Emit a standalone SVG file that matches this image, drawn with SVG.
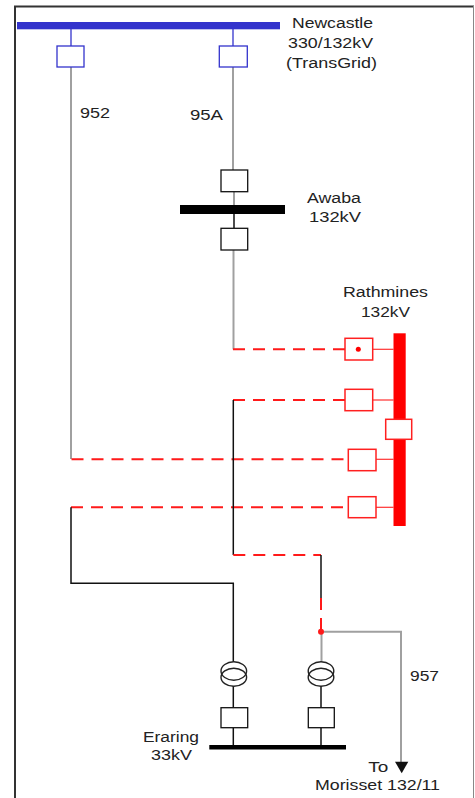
<svg xmlns="http://www.w3.org/2000/svg" width="475" height="798" viewBox="0 0 475 798">
<style>
text{font-family:"Liberation Sans",Arial,sans-serif;font-size:14px;fill:#222}
.gray{stroke:#a0a0a0;stroke-width:2;fill:none}
.blk{stroke:#111;stroke-width:1.5;fill:none}
.red{stroke:#ff1a1a;stroke-width:2;fill:none;stroke-dasharray:12 8}
.redthin{stroke:#ff3030;stroke-width:1.2;fill:none}
.blue{stroke:#3333cc;stroke-width:1.3;fill:none}
.bbox{fill:#fff;stroke:#3333cc;stroke-width:1.3}
.kbox{fill:#fff;stroke:#111;stroke-width:1.3}
.rbox{fill:#fff;stroke:#ff2020;stroke-width:1.5}
.tx{fill:none;stroke:#222;stroke-width:1.4}
</style>
<rect x="0" y="0" width="475" height="798" fill="#fff"/>
<g id="frame">
<line x1="15" y1="6" x2="15" y2="798" stroke="#333" stroke-width="2"/>
<line x1="14" y1="6.5" x2="474" y2="6.5" stroke="#333" stroke-width="2"/>
<line x1="473.5" y1="6" x2="473.5" y2="798" stroke="#888" stroke-width="1"/>
</g>
<g id="connectors">
<line class="blue" x1="71" y1="29" x2="71" y2="46"/>
<line class="blue" x1="233" y1="29" x2="233" y2="46"/>
<line class="gray" x1="71" y1="67" x2="71" y2="459"/>
<line class="gray" x1="233" y1="67" x2="233" y2="170"/>
<line class="gray" x1="234" y1="191.7" x2="234" y2="205"/>
<line class="blk" x1="234" y1="214" x2="234" y2="228"/>
<polyline class="gray" points="233.5,250 233.5,349.3"/>
<line class="red" x1="233" y1="349.3" x2="345" y2="349.3"/>
<line class="redthin" x1="372.7" y1="349.3" x2="393.5" y2="349.3"/>
<line class="red" x1="233" y1="400" x2="345" y2="400"/>
<line class="redthin" x1="372.7" y1="400" x2="393.5" y2="400"/>
<line class="red" x1="71.5" y1="459.3" x2="348.3" y2="459.3"/>
<line class="redthin" x1="376" y1="459.3" x2="393.5" y2="459.3"/>
<line class="red" x1="71" y1="507.3" x2="348.3" y2="507.3"/>
<line class="redthin" x1="376" y1="507.3" x2="393.5" y2="507.3"/>
<polyline class="blk" points="233.3,400 233.3,555"/>
<polyline class="blk" points="71,507.3 71,583.3 233.3,583.3 233.3,661.7"/>
<line class="red" x1="233.3" y1="555" x2="321" y2="555"/>
<line class="blk" x1="321" y1="555" x2="321" y2="598"/>
<line class="red" x1="321" y1="598" x2="321" y2="631.7" stroke-dasharray="22 9"/>
<line class="gray" x1="321.5" y1="631.7" x2="321.5" y2="661.7"/>
<polyline class="gray" points="321,631.7 401,631.7 401,762"/>
<polygon points="395,761.7 408.3,761.7 401.7,773.3" fill="#111"/>
<circle cx="321" cy="631.7" r="3" fill="#ff1a1a"/>
<line class="blk" x1="233.3" y1="686" x2="233.3" y2="708"/>
<line class="blk" x1="233.3" y1="728" x2="233.3" y2="745"/>
<line class="blk" x1="321" y1="686" x2="321" y2="708"/>
<line class="blk" x1="321" y1="728" x2="321" y2="745"/>
</g>
<g id="newcastle">
<rect x="17" y="22" width="263" height="7.3" fill="#3333cc"/>
<rect class="bbox" x="57" y="46" width="27" height="21"/>
<rect class="bbox" x="219.3" y="46" width="28" height="21"/>
<text x="292" y="28" textLength="81" lengthAdjust="spacingAndGlyphs">Newcastle</text>
<text x="288" y="48" textLength="85" lengthAdjust="spacingAndGlyphs">330/132kV</text>
<text x="286" y="67.5" textLength="91" lengthAdjust="spacingAndGlyphs">(TransGrid)</text>
</g>
<g id="line952"><text x="80" y="118.3" textLength="30" lengthAdjust="spacingAndGlyphs">952</text></g>
<g id="line95A"><text x="190" y="120.3" textLength="33" lengthAdjust="spacingAndGlyphs">95A</text></g>
<g id="awaba">
<rect class="kbox" x="221" y="170" width="26.7" height="21.7"/>
<rect x="180" y="205" width="105" height="9" fill="#000"/>
<rect class="kbox" x="221" y="228.3" width="26.7" height="21.7"/>
<text x="307" y="203" textLength="54" lengthAdjust="spacingAndGlyphs">Awaba</text>
<text x="309" y="222" textLength="52" lengthAdjust="spacingAndGlyphs">132kV</text>
</g>
<g id="rathmines">
<rect x="393.5" y="333.3" width="12.2" height="192.7" fill="#ff0000"/>
<rect class="rbox" x="345" y="338.3" width="27.7" height="21.7"/>
<circle cx="358.3" cy="349.3" r="2.5" fill="#ff0000"/>
<rect class="rbox" x="345" y="389.3" width="27.7" height="21.4"/>
<rect class="rbox" x="385.7" y="419.3" width="26" height="20"/>
<rect class="rbox" x="348.3" y="449.3" width="27.7" height="21.4"/>
<rect class="rbox" x="348.3" y="496.7" width="27.7" height="21"/>
<text x="343" y="297.3" textLength="85" lengthAdjust="spacingAndGlyphs">Rathmines</text>
<text x="361" y="316.7" textLength="49" lengthAdjust="spacingAndGlyphs">132kV</text>
</g>
<g id="eraring">
<ellipse class="tx" cx="233.8" cy="671" rx="12.8" ry="9.2"/>
<ellipse class="tx" cx="233.8" cy="677.2" rx="12.8" ry="9"/>
<ellipse class="tx" cx="321" cy="671" rx="12.8" ry="9.2"/>
<ellipse class="tx" cx="321" cy="677.2" rx="12.8" ry="9"/>
<rect class="kbox" x="221" y="707.7" width="26.7" height="20"/>
<rect class="kbox" x="308.3" y="707.7" width="26" height="20"/>
<rect x="209.3" y="745" width="136.7" height="4.5" fill="#000"/>
<text x="143" y="742" textLength="56" lengthAdjust="spacingAndGlyphs">Eraring</text>
<text x="151" y="760" textLength="41" lengthAdjust="spacingAndGlyphs">33kV</text>
</g>
<g id="line957"><text x="410" y="681" textLength="29" lengthAdjust="spacingAndGlyphs">957</text></g>
<g id="morisset">
<text x="368.3" y="772" textLength="20" lengthAdjust="spacingAndGlyphs">To</text>
<text x="315" y="790" textLength="125" lengthAdjust="spacingAndGlyphs">Morisset 132/11</text>
</g>
</svg>
